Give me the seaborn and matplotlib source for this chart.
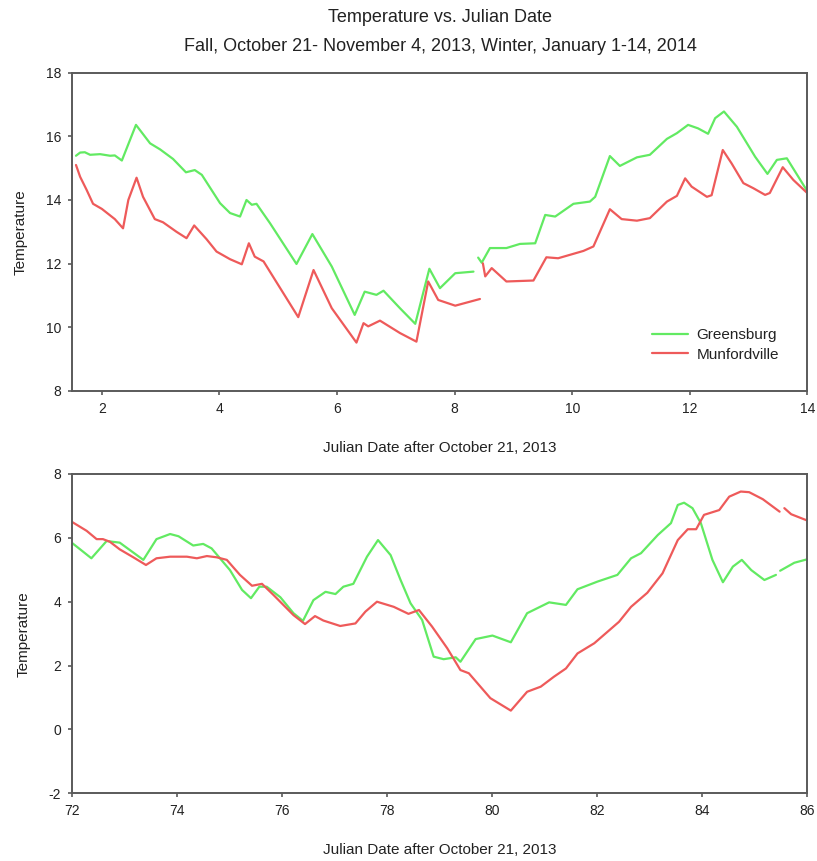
import numpy as np
import pandas as pd
import matplotlib
matplotlib.use("Agg")
import matplotlib.pyplot as plt
import seaborn as sns

# ---- Fall, October 21 - November 4, 2013 ----
fall_green_x1 = [1.56, 1.63, 1.71, 1.80, 1.97, 2.14, 2.22, 2.34, 2.58, 2.82, 2.99, 3.21, 3.43, 3.58,
                 3.70, 4.01, 4.18, 4.35, 4.46, 4.55, 4.63, 4.86, 5.31, 5.58, 5.91, 6.30, 6.47, 6.67,
                 6.79, 7.07, 7.33, 7.57, 7.75, 8.01, 8.32]
fall_green_y1 = [15.39, 15.49, 15.50, 15.42, 15.44, 15.39, 15.40, 15.24, 16.36, 15.78, 15.59, 15.29,
                 14.87, 14.94, 14.79, 13.90, 13.59, 13.48, 14.00, 13.85, 13.88, 13.27, 11.99, 12.93,
                 11.91, 10.39, 11.12, 11.02, 11.15, 10.60, 10.11, 11.84, 11.23, 11.70, 11.75]
fall_green_x2 = [8.40, 8.46, 8.60, 8.88, 9.11, 9.37, 9.54, 9.71, 10.02, 10.30, 10.39, 10.64, 10.81,
                 11.10, 11.32, 11.61, 11.78, 11.97, 12.14, 12.31, 12.43, 12.58, 12.80, 13.11, 13.32,
                 13.48, 13.65, 13.99]
fall_green_y2 = [12.19, 12.03, 12.49, 12.49, 12.62, 12.64, 13.53, 13.48, 13.88, 13.95, 14.10, 15.38,
                 15.07, 15.34, 15.42, 15.92, 16.10, 16.36, 16.25, 16.08, 16.57, 16.78, 16.30, 15.36,
                 14.82, 15.26, 15.31, 14.30]

fall_red_x1 = [1.56, 1.63, 1.74, 1.85, 2.00, 2.22, 2.36, 2.45, 2.59, 2.70, 2.90, 3.04, 3.27, 3.44,
               3.57, 3.78, 3.95, 4.18, 4.38, 4.50, 4.60, 4.75, 5.34, 5.60, 5.91, 6.33, 6.45, 6.53,
               6.73, 7.07, 7.35, 7.55, 7.72, 8.01, 8.43]
fall_red_y1 = [15.10, 14.73, 14.32, 13.88, 13.72, 13.40, 13.11, 14.00, 14.70, 14.10, 13.40, 13.30,
               13.00, 12.80, 13.20, 12.77, 12.38, 12.14, 11.98, 12.64, 12.22, 12.07, 10.32, 11.80,
               10.60, 9.52, 10.13, 10.03, 10.21, 9.82, 9.55, 11.44, 10.86, 10.68, 10.89]
fall_red_x2 = [8.48, 8.52, 8.63, 8.88, 9.34, 9.56, 9.76, 10.19, 10.36, 10.64, 10.84, 11.10, 11.32,
               11.61, 11.78, 11.92, 12.03, 12.29, 12.37, 12.56, 12.71, 12.91, 13.08, 13.28, 13.36,
               13.58, 13.76, 13.99]
fall_red_y2 = [12.01, 11.60, 11.86, 11.44, 11.47, 12.20, 12.17, 12.40, 12.54, 13.71, 13.40, 13.35,
               13.43, 13.95, 14.13, 14.68, 14.42, 14.10, 14.15, 15.57, 15.15, 14.53, 14.37, 14.16,
               14.22, 15.03, 14.63, 14.23]

# ---- Winter, January 1-14, 2014 ----
winter_green_x1 = [72.00, 72.20, 72.36, 72.65, 72.90, 73.35, 73.60, 73.86, 74.02, 74.30, 74.49,
                   74.65, 75.00, 75.23, 75.40, 75.56, 75.70, 75.96, 76.21, 76.39, 76.59, 76.82,
                   77.01, 77.16, 77.35, 77.61, 77.82, 78.06, 78.25, 78.44, 78.66, 78.88, 79.07,
                   79.30, 79.39, 79.68, 80.00, 80.35, 80.66, 81.08, 81.40, 81.62, 82.00, 82.38,
                   82.64, 82.83, 83.15, 83.40, 83.53, 83.65, 83.81, 83.97, 84.19, 84.39, 84.58,
                   84.75, 84.93, 85.18, 85.40]
winter_green_y1 = [5.83, 5.57, 5.36, 5.90, 5.85, 5.31, 5.96, 6.12, 6.05, 5.76, 5.81, 5.67, 4.99,
                   4.37, 4.11, 4.47, 4.47, 4.14, 3.64, 3.40, 4.05, 4.31, 4.24, 4.47, 4.56, 5.41,
                   5.93, 5.46, 4.68, 3.95, 3.43, 2.28, 2.20, 2.26, 2.12, 2.83, 2.94, 2.73, 3.64,
                   3.98, 3.90, 4.39, 4.63, 4.84, 5.36, 5.52, 6.09, 6.46, 7.03, 7.10, 6.93, 6.46,
                   5.31, 4.61, 5.10, 5.31, 4.99, 4.68, 4.84]
winter_green_x2 = [85.48, 85.75, 86.00]
winter_green_y2 = [4.97, 5.22, 5.33]

winter_red_x1 = [72.00, 72.27, 72.46, 72.58, 72.71, 72.90, 73.16, 73.40, 73.60, 73.86, 74.18,
                 74.37, 74.56, 74.75, 74.94, 75.19, 75.42, 75.61, 75.83, 76.21, 76.43, 76.62,
                 76.78, 77.10, 77.39, 77.58, 77.80, 78.12, 78.40, 78.60, 78.85, 79.14, 79.39,
                 79.55, 79.96, 80.35, 80.66, 80.92, 81.17, 81.40, 81.62, 81.94, 82.41, 82.64,
                 82.95, 83.24, 83.53, 83.72, 83.88, 84.03, 84.32, 84.51, 84.73, 84.89, 85.15,
                 85.47]
winter_red_y1 = [6.49, 6.22, 5.96, 5.96, 5.88, 5.64, 5.39, 5.15, 5.36, 5.41, 5.41, 5.36, 5.43,
                 5.39, 5.31, 4.84, 4.50, 4.56, 4.21, 3.58, 3.30, 3.55, 3.41, 3.24, 3.32, 3.69,
                 4.00, 3.84, 3.62, 3.74, 3.22, 2.54, 1.86, 1.76, 0.98, 0.59, 1.18, 1.34, 1.65,
                 1.91, 2.38, 2.70, 3.37, 3.84, 4.28, 4.89, 5.93, 6.27, 6.27, 6.72, 6.87, 7.29,
                 7.45, 7.43, 7.21, 6.82]
winter_red_x2 = [85.56, 85.69, 86.00]
winter_red_y2 = [6.93, 6.74, 6.54]

stations = ["Greensburg", "Munfordville"]
palette = {"Greensburg": "#62ea62", "Munfordville": "#ee5a5a"}


def frame(segments):
    rows = []
    for seg_id, (station, xs, ys) in enumerate(segments):
        rows.append(pd.DataFrame({"day": xs, "temp": ys, "station": station, "seg": seg_id}))
    return pd.concat(rows, ignore_index=True)


fall = frame([
    ("Greensburg", fall_green_x1, fall_green_y1),
    ("Greensburg", fall_green_x2, fall_green_y2),
    ("Munfordville", fall_red_x1, fall_red_y1),
    ("Munfordville", fall_red_x2, fall_red_y2),
])
winter = frame([
    ("Greensburg", winter_green_x1, winter_green_y1),
    ("Greensburg", winter_green_x2, winter_green_y2),
    ("Munfordville", winter_red_x1, winter_red_y1),
    ("Munfordville", winter_red_x2, winter_red_y2),
])

sns.set_style("ticks")
plt.rcParams["font.family"] = ["Liberation Sans", "DejaVu Sans"]
plt.rcParams["axes.unicode_minus"] = False

fig = plt.figure(figsize=(8.17, 8.61), dpi=100)
ax1 = fig.add_axes([0.0887, 0.5459, 0.8996, 0.3697])
ax2 = fig.add_axes([0.0887, 0.0786, 0.8996, 0.3709])

sns.lineplot(data=fall, x="day", y="temp", hue="station", hue_order=stations,
             units="seg", estimator=None, sort=False, palette=palette,
             linewidth=1.6, ax=ax1)
sns.lineplot(data=winter, x="day", y="temp", hue="station", hue_order=stations,
             units="seg", estimator=None, sort=False, palette=palette,
             linewidth=1.6, ax=ax2, legend=False)

spine_color = "#5a5a5a"
text_color = "#222222"
for ax in (ax1, ax2):
    for sp in ax.spines.values():
        sp.set_color(spine_color)
        sp.set_linewidth(1.4)
    ax.tick_params(direction="out", length=3, width=1.2, color=spine_color,
                   labelsize=10, labelcolor=text_color, pad=5)
    ax.set_ylabel("Temperature", fontsize=11, color=text_color, labelpad=13)
    ax.set_xlabel("Julian Date after October 21, 2013", fontsize=11,
                  color=text_color, labelpad=18)

ax1.set_xlim(1.5, 14)
ax1.set_ylim(8, 18)
ax1.set_xticks([2, 4, 6, 8, 10, 12, 14])
ax1.set_yticks([8, 10, 12, 14, 16, 18])

ax2.set_xlim(72, 86)
ax2.set_ylim(-2, 8)
ax2.set_xticks([72, 74, 76, 78, 80, 82, 84, 86])
ax2.set_yticks([-2, 0, 2, 4, 6, 8])

leg = ax1.legend(loc="lower left", bbox_to_anchor=(0.789, 0.092), frameon=False,
                 fontsize=11, handlelength=2.35, handletextpad=0.55, labelspacing=0.35,
                 borderpad=0, borderaxespad=0)
for t in leg.get_texts():
    t.set_color(text_color)

fig.text(0.539, 0.980, "Temperature vs. Julian Date", ha="center", va="center",
         fontsize=13, color=text_color)
fig.text(0.539, 0.946, "Fall, October 21- November 4, 2013, Winter, January 1-14, 2014",
         ha="center", va="center", fontsize=13, color=text_color)

fig.savefig("out.png", dpi=100)
